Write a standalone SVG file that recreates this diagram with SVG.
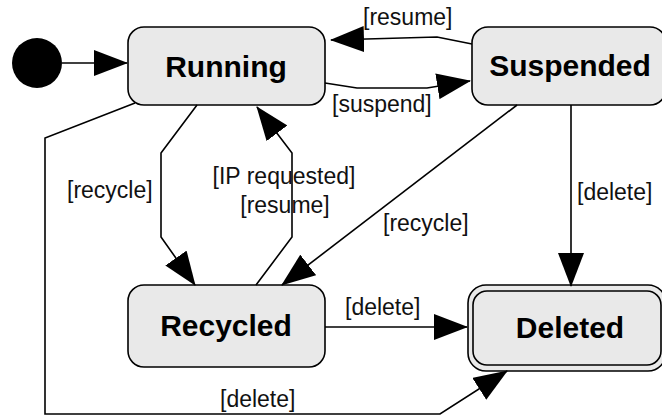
<svg xmlns="http://www.w3.org/2000/svg" width="662" height="417" viewBox="0 0 662 417">
  <defs>
    <marker id="arrow" viewBox="0 0 34 26" refX="33" refY="13" markerWidth="34" markerHeight="26" markerUnits="userSpaceOnUse" orient="auto">
      <path d="M0,0 L34,13 L0,26 Z" fill="#000"/>
    </marker>
  </defs>
  <style>
    .state { fill: #e9e9e9; stroke: #000; stroke-width: 1.6; }
    .name { font-family: "Liberation Sans", Arial, sans-serif; font-weight: bold; font-size: 30px; fill: #000; text-anchor: middle; }
    .edge { fill: none; stroke: #000; stroke-width: 1.6; marker-end: url(#arrow); }
    .label { font-family: "Liberation Sans", Arial, sans-serif; font-size: 23px; fill: #111; }
  </style>

  <!-- initial pseudo-state -->
  <g id="start">
    <circle cx="37" cy="63" r="25" fill="#000"/>
  </g>

  <g id="running">
    <rect class="state" x="128" y="27" width="197" height="78" rx="16" ry="16"/>
    <text class="name" x="226" y="77">Running</text>
  </g>

  <g id="suspended">
    <rect class="state" x="472" y="27" width="194" height="78" rx="16" ry="16"/>
    <text class="name" x="570" y="76">Suspended</text>
  </g>

  <g id="recycled">
    <rect class="state" x="128" y="285" width="197" height="82" rx="16" ry="16"/>
    <text class="name" x="226" y="336">Recycled</text>
  </g>

  <!-- final state: double border -->
  <g id="deleted">
    <rect class="state" x="468" y="285" width="198" height="86" rx="18" ry="18"/>
    <rect x="473" y="291" width="188" height="74" rx="14" ry="14" fill="none" stroke="#000" stroke-width="1.6"/>
    <text class="name" x="570" y="338">Deleted</text>
  </g>

  <g id="connectors">
    <path class="edge" d="M62,63 L127,63"/>
    <!-- resume: Suspended to Running -->
    <path class="edge" d="M472,44 L437,37 L331,40"/>
    <!-- suspend: Running to Suspended -->
    <path class="edge" d="M325,83 L357,88 L427,88 L470,81"/>
    <!-- recycle: Running to Recycled -->
    <path class="edge" d="M197,105 L161,153 L161,237 L195,285"/>
    <!-- IP requested / resume: Recycled to Running -->
    <path class="edge" d="M256,285 L292,237 L292,153 L257,107"/>
    <!-- recycle: Suspended to Recycled -->
    <path class="edge" d="M517,105 L282,285"/>
    <!-- delete: Suspended to Deleted -->
    <path class="edge" d="M571,105 L571,286"/>
    <!-- delete: Recycled to Deleted -->
    <path class="edge" d="M325,327 L467,327"/>
    <!-- delete: Running to Deleted -->
    <path class="edge" d="M135,103 L45,138 L45,414 L440,414 L507,371"/>

    <text class="label" x="363" y="25">[resume]</text>
    <text class="label" x="332" y="112">[suspend]</text>
    <text class="label" x="67" y="198">[recycle]</text>
    <text class="label" x="284" y="184" text-anchor="middle">[IP requested]</text>
    <text class="label" x="285" y="213" text-anchor="middle">[resume]</text>
    <text class="label" x="383" y="231">[recycle]</text>
    <text class="label" x="577" y="200">[delete]</text>
    <text class="label" x="345" y="315">[delete]</text>
    <text class="label" x="220" y="407">[delete]</text>
  </g>
</svg>
